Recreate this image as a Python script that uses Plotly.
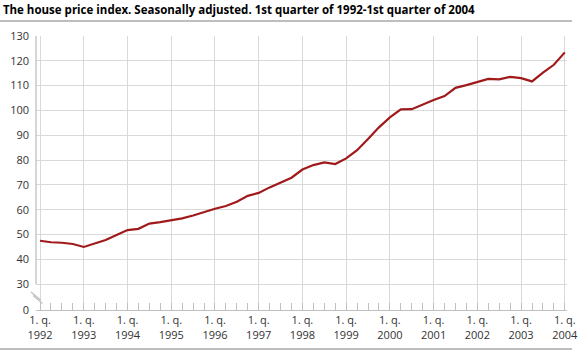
import plotly.graph_objects as go

years = list(range(1992, 2005))
quarter_labels = [f"1. q.<br>{y}" for y in years]
index_values = [
    47.5, 46.9, 46.7, 46.2,
    45.0, 46.4, 47.8, 49.8,
    51.8, 52.3, 54.4, 55.0,
    55.7, 56.5, 57.7, 59.2,
    60.4, 61.5, 63.2, 65.6,
    66.8, 69.0, 70.9, 72.9,
    76.2, 78.0, 79.1, 78.4,
    80.7, 84.0, 88.5, 93.2,
    97.2, 100.4, 100.5, 102.4,
    104.2, 105.8, 109.1, 110.2,
    111.3, 112.7, 112.5, 113.5,
    113.0, 111.7, 115.2, 118.4,
    123.4,
]
y_tick_labels = ["0", "30", "40", "50", "60", "70", "80", "90", "100", "110", "120", "130"]

W, H = 578, 352
L, R, T, B = 36, 11, 36, 42
PW, PH = W - L - R, H - T - B


def px(x):
    return (x - L) / PW


def py(y):
    return (H - B - y) / PH


x_idx = list(range(len(index_values)))
axis_zero = 19.6  # position where the broken axis shows "0"
y_tick_vals = [axis_zero] + list(range(30, 131, 10))

fig = go.Figure()
fig.add_trace(go.Scatter(
    x=x_idx, y=index_values, mode="lines",
    line=dict(color="#a01a1c", width=2.2),
    hoverinfo="skip",
))
# invisible trace to carry the quarter tick axis
fig.add_trace(go.Scatter(
    x=x_idx, y=index_values, mode="lines", xaxis="x2",
    line=dict(color="rgba(0,0,0,0)", width=0), hoverinfo="skip",
))

grid = "#d9d9d9"
font = "Open Sans"
fig.update_layout(
    width=W, height=H,
    margin=dict(l=L, r=R, t=T, b=B, autoexpand=False),
    paper_bgcolor="white", plot_bgcolor="white",
    showlegend=False,
    font=dict(family=font, size=11, color="#333333"),
    title=dict(
        text="<b>The house price index. Seasonally adjusted. 1st quarter of 1992-1st quarter of 2004</b>",
        x=0.005, xanchor="left", y=1 - 10 / H, yanchor="middle",
        font=dict(family=font, size=11.5, color="#000000"),
    ),
    xaxis=dict(
        range=[-0.37, 48.2], automargin=False,
        tickmode="array", tickvals=list(range(0, 49, 4)), ticktext=quarter_labels,
        ticklabeloverflow="allow",
        showgrid=True, gridcolor=grid, gridwidth=1.3,
        showline=True, linecolor="#c0c0c0", linewidth=1.3,
        ticks="", zeroline=False,
        tickfont=dict(size=11, color="#333333"),
        fixedrange=True, layer="below traces",
    ),
    xaxis2=dict(
        range=[-0.37, 48.2], overlaying="x", side="bottom", automargin=False,
        tickmode="array", tickvals=x_idx, ticks="inside", ticklen=7,
        tickcolor="#c0c0c0", tickwidth=1, showticklabels=False,
        showgrid=False, showline=False, zeroline=False, fixedrange=True,
    ),
    yaxis=dict(
        range=[axis_zero, 130], automargin=False,
        tickmode="array", tickvals=y_tick_vals, ticktext=y_tick_labels,
        showgrid=True, gridcolor=grid, gridwidth=1.3,
        showline=False, zeroline=False, ticks="",
        ticklabelstandoff=6,
        tickfont=dict(size=11, color="#333333"),
        fixedrange=True,
    ),
)

shapes = []
# left axis line from 30 up to 130
shapes.append(dict(type="line", xref="paper", yref="y", x0=0, x1=0, y0=30, y1=130,
                   line=dict(color="#c0c0c0", width=1.3)))
# axis break marks
shapes.append(dict(type="line", xref="paper", yref="paper",
                   x0=px(31), y0=py(292), x1=px(40.5), y1=py(300),
                   line=dict(color="#c0c0c0", width=1.2)))
shapes.append(dict(type="line", xref="paper", yref="paper",
                   x0=px(33), y0=py(295.5), x1=px(42.5), y1=py(303.5),
                   line=dict(color="#c0c0c0", width=1.2)))
# top and bottom rules
shapes.append(dict(type="line", xref="paper", yref="paper",
                   x0=px(0), x1=px(572), y0=py(21), y1=py(21),
                   line=dict(color="#a8a8a8", width=1.5)))
shapes.append(dict(type="line", xref="paper", yref="paper",
                   x0=px(0), x1=px(572), y0=py(349), y1=py(349),
                   line=dict(color="#a8a8a8", width=1.5)))
fig.update_layout(shapes=shapes)

fig.write_html("out.html", config={"displayModeBar": False},
               post_script="document.body.style.margin='0';")
